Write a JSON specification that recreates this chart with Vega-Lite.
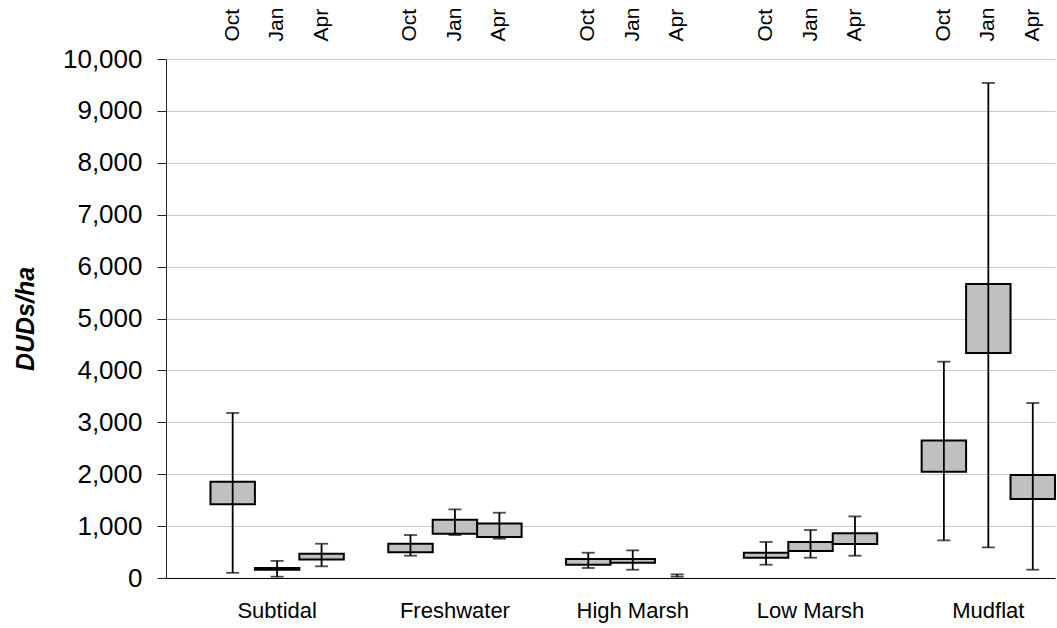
{
  "$schema": "https://vega.github.io/schema/vega-lite/v6.json",
  "width": 889,
  "height": 519,
  "autosize": {"type": "none"},
  "padding": {"left": 166, "top": 59, "right": 2, "bottom": 50},
  "background": "white",
  "config": {
    "font": "Liberation Sans",
    "view": {"stroke": null},
    "axis": {"labelColor": "black", "titleColor": "black", "labelFont": "Liberation Sans", "titleFont": "Liberation Sans"},
    "axisY": {
      "titleFontSize": 25, "titleFontWeight": "bold", "titleFontStyle": "italic",
      "titlePadding": 24, "labelFontSize": 26, "labelPadding": 15,
      "tickSize": 9, "tickColor": "#222222", "domainColor": "#222222",
      "grid": true, "gridColor": "#c8c8c8", "gridWidth": 1
    }
  },
  "data": {
    "values": [
      {"key": "Subtidal|Oct", "habitat": "Subtidal", "month": "Oct", "low": 100, "q1": 1420, "q3": 1855, "high": 3180},
      {"key": "Subtidal|Jan", "habitat": "Subtidal", "month": "Jan", "low": 25, "q1": 160, "q3": 195, "high": 330},
      {"key": "Subtidal|Apr", "habitat": "Subtidal", "month": "Apr", "low": 225, "q1": 355, "q3": 468, "high": 660},
      {"key": "Freshwater|Oct", "habitat": "Freshwater", "month": "Oct", "low": 430, "q1": 494, "q3": 661, "high": 828},
      {"key": "Freshwater|Jan", "habitat": "Freshwater", "month": "Jan", "low": 828, "q1": 854, "q3": 1123, "high": 1322},
      {"key": "Freshwater|Apr", "habitat": "Freshwater", "month": "Apr", "low": 757, "q1": 790, "q3": 1052, "high": 1258},
      {"key": "High Marsh|Oct", "habitat": "High Marsh", "month": "Oct", "low": 193, "q1": 256, "q3": 366, "high": 487},
      {"key": "High Marsh|Jan", "habitat": "High Marsh", "month": "Jan", "low": 160, "q1": 295, "q3": 366, "high": 532},
      {"key": "High Marsh|Apr", "habitat": "High Marsh", "month": "Apr", "low": 25, "q1": null, "q3": null, "high": 70},
      {"key": "Low Marsh|Oct", "habitat": "Low Marsh", "month": "Oct", "low": 256, "q1": 391, "q3": 487, "high": 694},
      {"key": "Low Marsh|Jan", "habitat": "Low Marsh", "month": "Jan", "low": 391, "q1": 520, "q3": 694, "high": 925},
      {"key": "Low Marsh|Apr", "habitat": "Low Marsh", "month": "Apr", "low": 430, "q1": 655, "q3": 860, "high": 1187},
      {"key": "Mudflat|Oct", "habitat": "Mudflat", "month": "Oct", "low": 725, "q1": 2048, "q3": 2651, "high": 4168},
      {"key": "Mudflat|Jan", "habitat": "Mudflat", "month": "Jan", "low": 590, "q1": 4335, "q3": 5665, "high": 9538},
      {"key": "Mudflat|Apr", "habitat": "Mudflat", "month": "Apr", "low": 160, "q1": 1522, "q3": 1985, "high": 3372}
    ]
  },
  "resolve": {"axis": {"x": "independent"}, "scale": {"x": "shared", "y": "shared"}},
  "layer": [
    {
      "mark": {"type": "bar", "fill": "#c0c0c0", "stroke": "black", "strokeWidth": 2, "width": {"band": 1}},
      "encoding": {
        "x": {
          "field": "key", "type": "nominal",
          "scale": {
            "type": "band", "paddingInner": 0, "paddingOuter": 0,
            "domain": ["Subtidal|", "Subtidal|Oct", "Subtidal|Jan", "Subtidal|Apr",
                       "Freshwater|", "Freshwater|Oct", "Freshwater|Jan", "Freshwater|Apr",
                       "High Marsh|", "High Marsh|Oct", "High Marsh|Jan", "High Marsh|Apr",
                       "Low Marsh|", "Low Marsh|Oct", "Low Marsh|Jan", "Low Marsh|Apr",
                       "Mudflat|", "Mudflat|Oct", "Mudflat|Jan", "Mudflat|Apr"]
          },
          "axis": {
            "orient": "bottom", "title": null, "ticks": false, "tickSize": 0, "grid": false,
            "domain": true, "domainColor": "black", "domainWidth": 1,
            "labelAngle": 0, "labelFontSize": 22, "labelPadding": 22, "labelDx": 4,
            "labelBaseline": "top", "labelAlign": "center",
            "labelExpr": "split(datum.value, '|')[1] == 'Jan' ? split(datum.value, '|')[0] : ''"
          }
        },
        "y": {
          "field": "q1", "type": "quantitative", "title": "DUDs/ha",
          "scale": {"domain": [0, 10000], "nice": false, "zero": true},
          "axis": {
            "title": "DUDs/ha",
            "values": [0, 1000, 2000, 3000, 4000, 5000, 6000, 7000, 8000, 9000, 10000],
            "format": ",d"
          }
        },
        "y2": {"field": "q3"}
      }
    },
    {
      "mark": {"type": "rule", "color": "black", "strokeWidth": 1.8},
      "encoding": {
        "x": {
          "field": "key", "type": "nominal",
          "axis": {
            "orient": "top", "title": null, "ticks": false, "tickSize": 0, "grid": false, "domain": false,
            "labelAngle": -90, "labelAlign": "left", "labelBaseline": "middle",
            "labelFontSize": 21, "labelPadding": 18,
            "labelExpr": "split(datum.value, '|')[1]"
          }
        },
        "y": {
          "field": "low", "type": "quantitative", "title": "DUDs/ha",
          "axis": {
            "title": "DUDs/ha",
            "values": [0, 1000, 2000, 3000, 4000, 5000, 6000, 7000, 8000, 9000, 10000],
            "format": ",d"
          }
        },
        "y2": {"field": "high"}
      }
    },
    {
      "mark": {"type": "tick", "color": "black", "size": 13, "thickness": 1.8, "orient": "horizontal"},
      "encoding": {
        "x": {"field": "key", "type": "nominal", "axis": null},
        "y": {
          "field": "low", "type": "quantitative", "title": "DUDs/ha",
          "axis": {
            "title": "DUDs/ha",
            "values": [0, 1000, 2000, 3000, 4000, 5000, 6000, 7000, 8000, 9000, 10000],
            "format": ",d"
          }
        }
      }
    },
    {
      "mark": {"type": "tick", "color": "black", "size": 13, "thickness": 1.8, "orient": "horizontal"},
      "encoding": {
        "x": {"field": "key", "type": "nominal", "axis": null},
        "y": {
          "field": "high", "type": "quantitative", "title": "DUDs/ha",
          "axis": {
            "title": "DUDs/ha",
            "values": [0, 1000, 2000, 3000, 4000, 5000, 6000, 7000, 8000, 9000, 10000],
            "format": ",d"
          }
        }
      }
    }
  ]
}
